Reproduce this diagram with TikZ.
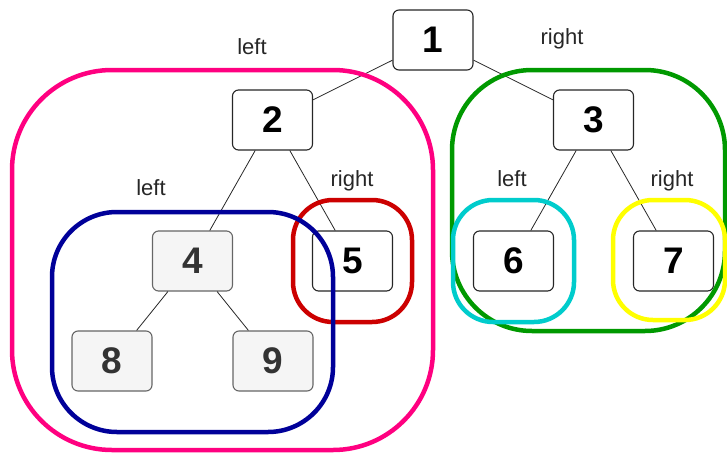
\documentclass[tikz,border=0pt]{standalone}
\usepackage{fontspec}
\setmainfont{Liberation Sans}
\definecolor{pinkline}{RGB}{255,0,128}
\definecolor{navyline}{RGB}{0,0,153}
\definecolor{redline}{RGB}{204,0,0}
\definecolor{greenline}{RGB}{0,153,0}
\definecolor{cyanline}{RGB}{0,204,204}
\definecolor{yellowline}{RGB}{255,255,0}
\begin{document}
\begin{tikzpicture}[x=1pt,y=-1pt]
        \tikzstyle{key node}=[draw=black!85,fill=white,rounded corners=6pt,line width=1.1pt,minimum width=80pt,minimum height=60pt,font=\fontsize{37}{40}\selectfont\bfseries]
        \tikzstyle{gray node}=[key node,draw=black!60,fill=black!4,text=black!80]
        \tikzstyle{side label}=[anchor=base,text=black!85,font=\fontsize{22}{24}\selectfont]
        \tikzstyle{group box}=[line width=4.5pt]
        \tikzstyle{edge from parent}=[draw=black!85,line width=0.8pt]
        \tikzstyle{level 1}=[level distance=80pt,sibling distance=321pt]
        \tikzstyle{level 2}=[level distance=141pt,sibling distance=160pt]
        \tikzstyle{level 3}=[level distance=100pt,sibling distance=161pt]

        \useasboundingbox (0,0) rectangle (727,452);

        % Binary tree
        \node(n1)[key node] at (433,40){1}
        child{node[key node](n2){2}
                child{node[gray node](n4){4}
                        child{node[gray node](n8){8}}
                        child{node[gray node](n9){9}}
                        edge from parent
                    }
                child{node[key node](n5){5}}
                edge from parent
            }
        child{node[key node](n3){3}
                child{node[key node](n6){6}}
                child{node[key node](n7){7}}
                edge from parent
            };

        % Subtrees (coloured boxes)
        \draw[group box,pinkline,rounded corners=100pt] (12,70) rectangle (433,450);
        \draw[group box,greenline,rounded corners=80pt] (452,70) rectangle (725,331);
        \draw[group box,yellowline,rounded corners=40pt] (613,200) rectangle (725,320);
        \draw[group box,cyanline,rounded corners=40pt] (453,200) rectangle (574,322);
        \draw[group box,redline,rounded corners=40pt] (293,200) rectangle (412,322);
        \draw[group box,navyline,rounded corners=65pt] (52,212) rectangle (333,432);

        % Side labels
        \node[side label](lab1) at (252,55){left};
        \node[side label](lab2) at (562,45){right};
        \node[side label](lab3) at (151,195){left};
        \node[side label](lab4) at (352,186){right};
        \node[side label](lab5) at (512,186){left};
        \node[side label](lab6) at (672,186){right};
    \end{tikzpicture}
\end{document}
